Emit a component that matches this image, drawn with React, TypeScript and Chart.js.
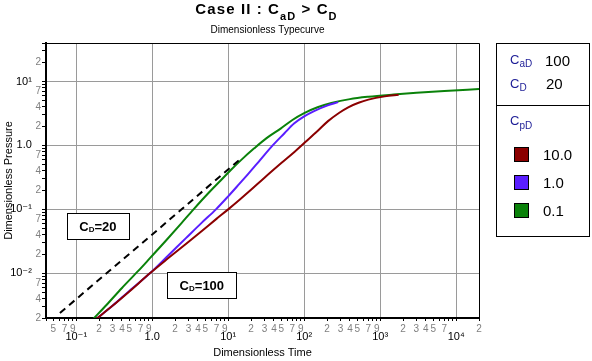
import React, { useEffect, useRef } from 'react';
import { Chart, registerables } from 'chart.js';

Chart.register(...registerables);

const FONT = "'Liberation Sans', Arial, 'DejaVu Sans', sans-serif";

// axis ranges
const xMin = 0.04;
const xMax = 20000;
const yMin = 0.002;
const yMax = 40;

// C_pD = 10.0
const tRed = [0.18, 0.3, 0.5, 0.94, 1.6, 2.8, 4.5, 7, 10, 14, 19.8, 29.8, 50, 75, 101, 150, 206, 290, 380, 520, 700, 1150, 1750];
const pRed = [0.0019, 0.0031, 0.0052, 0.0101, 0.017, 0.029, 0.046, 0.071, 0.1, 0.14, 0.2, 0.31, 0.53, 0.8, 1.1, 1.68, 2.4, 3.25, 3.95, 4.65, 5.2, 5.85, 6.2];

// C_pD = 1.0
const tBlue = [0.18, 0.3, 0.5, 0.94, 1.6, 2.8, 4.5, 6.9, 10, 14, 18, 25, 38.5, 55, 73.5, 100, 135, 200, 280];
const pBlue = [0.0019, 0.0031, 0.0053, 0.0101, 0.0187, 0.0358, 0.062, 0.1, 0.16, 0.25, 0.35, 0.55, 1.0, 1.55, 2.2, 2.85, 3.45, 4.2, 4.75];

// C_pD = 0.1
const tGreen = [0.165, 0.25, 0.4, 0.66, 0.94, 1.5, 2.4, 3.5, 5.5, 7.9, 11, 15, 22, 32, 49.5, 70, 100, 150, 228, 400, 700, 1500, 3000, 7000, 20000];
const pGreen = [0.0019, 0.0032, 0.0059, 0.011, 0.0174, 0.032, 0.06, 0.1, 0.18, 0.28, 0.42, 0.6, 0.9, 1.3, 1.85, 2.5, 3.2, 3.95, 4.6, 5.3, 5.77, 6.25, 6.65, 7.1, 7.6];

// unit-slope storage line (C_D = 20)
const tUnit = [0.061, 0.94, 14.6];
const pUnit = [0.0024, 0.038, 0.62];

// legend
const legendValues = ['10.0', '1.0', '0.1'];
const seriesColors = ['#8B0000', '#5A1EFF', '#0A820A'];
const caDValue = '100';
const cDValue = '20';

// text annotations anchored in data space
const annotationLabels = ['20', '100'];
const annotationT = [0.193, 4.5];
const annotationP = [0.054, 0.00656];

// tick label sets
const xMinorLabelled = [2, 3, 4, 5, 7, 9];
const yMinorLabelled = [2, 4, 7];

const SUP: Record<string, string> = { '-': '\u207B', '0': '\u2070', '1': '\u00B9', '2': '\u00B2', '3': '\u00B3', '4': '\u2074', '5': '\u2075', '6': '\u2076', '7': '\u2077', '8': '\u2078', '9': '\u2079' };

function decompose(v: number) {
  let e = Math.floor(Math.log10(v) + 1e-9);
  let m = Math.round(v / Math.pow(10, e));
  if (m >= 10) { m = 1; e += 1; }
  return { e, m };
}

function majorLabel(e: number) {
  if (e === 0) return '1.0';
  return '10' + String(e).split('').map((c) => SUP[c]).join('');
}

function buildLogTicks(min: number, max: number) {
  const out: number[] = [];
  for (let e = Math.floor(Math.log10(min)) - 1; e <= Math.floor(Math.log10(max)) + 1; e++) {
    for (let m = 1; m <= 9; m++) {
      const v = Number((m * Math.pow(10, e)).toPrecision(10));
      if (v >= min * (1 - 1e-9) && v <= max * (1 + 1e-9)) out.push(v);
    }
  }
  return out;
}

function xLabel(v: number): string | string[] {
  const { e, m } = decompose(v);
  if (m === 1) return ['', majorLabel(e)];
  if (xMinorLabelled.includes(m)) {
    if (e === -2 && m === 4) return '';
    if (e === 3 && m === 9) return '';
    return [String(m)];
  }
  return '';
}

function yLabel(v: number): string {
  const { e, m } = decompose(v);
  if (m === 1) return majorLabel(e) + '   ';
  if (e === 1 && m === 4) return '';
  if (yMinorLabelled.includes(m)) return String(m);
  return '';
}

function isMajor(v: number) {
  return decompose(v).m === 1;
}

function toPoints(t: number[], p: number[]) {
  return t.map((x, i) => ({ x, y: p[i] }));
}

type Part = { text: string; font: string; dy?: number; color?: string };

function drawRich(ctx: CanvasRenderingContext2D, parts: Part[], x: number, y: number, align: 'left' | 'center', spacing = 0) {
  ctx.textAlign = 'left';
  ctx.textBaseline = 'alphabetic';
  (ctx as any).letterSpacing = spacing + 'px';
  let total = 0;
  const widths = parts.map((p) => {
    ctx.font = p.font;
    const w = ctx.measureText(p.text).width;
    total += w;
    return w;
  });
  let cx = align === 'center' ? x - total / 2 : x;
  parts.forEach((p, i) => {
    ctx.font = p.font;
    ctx.fillStyle = p.color || '#000';
    ctx.fillText(p.text, cx, y + (p.dy || 0));
    cx += widths[i];
  });
  (ctx as any).letterSpacing = '0px';
  return total;
}

const decorPlugin = {
  id: 'decor',
  afterDraw(chart: any) {
    const ctx: CanvasRenderingContext2D = chart.ctx;
    const { left, right, top, bottom } = chart.chartArea;
    const xs = chart.scales.x;
    const ys = chart.scales.y;
    ctx.save();

    // top / right frame
    ctx.strokeStyle = '#000';
    ctx.lineWidth = 1;
    ctx.beginPath();
    ctx.moveTo(left, top + 0.5);
    ctx.lineTo(right + 0.5, top + 0.5);
    ctx.lineTo(right + 0.5, bottom);
    ctx.stroke();

    // annotation boxes
    annotationLabels.forEach((lab, i) => {
      const cx = xs.getPixelForValue(annotationT[i]);
      const cy = ys.getPixelForValue(annotationP[i]);
      const parts: Part[] = [
        { text: 'C', font: `bold 13px ${FONT}` },
        { text: 'D', font: `bold 8px ${FONT}`, dy: 1 },
        { text: '=' + lab, font: `bold 13px ${FONT}` },
      ];
      let tw = 0;
      parts.forEach((p) => { ctx.font = p.font; tw += ctx.measureText(p.text).width; });
      const w = Math.round(tw + 25);
      const h = 26;
      const bx = Math.round(cx - w / 2) + 0.5;
      const by = Math.round(cy - h / 2) + 0.5;
      ctx.fillStyle = '#fff';
      ctx.fillRect(bx, by, w, h);
      ctx.strokeStyle = '#000';
      ctx.lineWidth = 1;
      ctx.strokeRect(bx, by, w, h);
      drawRich(ctx, parts, cx, cy + 4.5, 'center');
    });

    // title + subtitle
    const midX = (left + right) / 2 + 4;
    drawRich(ctx, [
      { text: 'Case II : C', font: `bold 15px ${FONT}` },
      { text: 'aD', font: `bold 11px ${FONT}`, dy: 6.5 },
      { text: ' > C', font: `bold 15px ${FONT}` },
      { text: 'D', font: `bold 11px ${FONT}`, dy: 6.5 },
    ], midX, 13.5, 'center', 1.1);
    drawRich(ctx, [{ text: 'Dimensionless Typecurve', font: `10px ${FONT}` }], midX + 1, 33, 'center');

    // legend panel
    const lx = 496.5, ly = 43.5, lw = 93, lh = 193;
    ctx.fillStyle = '#fff';
    ctx.fillRect(lx, ly, lw, lh);
    ctx.strokeStyle = '#000';
    ctx.lineWidth = 1;
    ctx.strokeRect(lx, ly, lw, lh);
    ctx.beginPath();
    ctx.moveTo(lx, 105.5);
    ctx.lineTo(lx + lw, 105.5);
    ctx.stroke();

    const navy = '#1c1c96';
    drawRich(ctx, [
      { text: 'C', font: `13px ${FONT}`, color: navy },
      { text: 'aD', font: `10px ${FONT}`, color: navy, dy: 3 },
    ], 510, 64, 'left');
    drawRich(ctx, [{ text: caDValue, font: `15px ${FONT}` }], 545, 65.5, 'left');
    drawRich(ctx, [
      { text: 'C', font: `13px ${FONT}`, color: navy },
      { text: 'D', font: `10px ${FONT}`, color: navy, dy: 3 },
    ], 510, 88, 'left');
    drawRich(ctx, [{ text: cDValue, font: `15px ${FONT}` }], 546, 88.5, 'left');
    drawRich(ctx, [
      { text: 'C', font: `13px ${FONT}`, color: navy },
      { text: 'pD', font: `10px ${FONT}`, color: navy, dy: 4 },
    ], 510, 124.5, 'left');

    legendValues.forEach((v, i) => {
      const sy = 146.5 + i * 28.3;
      ctx.fillStyle = seriesColors[i];
      ctx.fillRect(514.5, Math.round(sy) + 0.5, 14, 14);
      ctx.strokeStyle = '#000';
      ctx.strokeRect(514.5, Math.round(sy) + 0.5, 14, 14);
      drawRich(ctx, [{ text: v, font: `15px ${FONT}` }], 543, Math.round(sy) + 13, 'left');
    });

    ctx.restore();
  },
};

export default function App() {
  const ref = useRef<HTMLCanvasElement | null>(null);

  useEffect(() => {
    if (!ref.current) return;
    const chart = new Chart(ref.current, {
      type: 'line',
      data: {
        datasets: [
          {
            label: 'CD=20',
            data: toPoints(tUnit, pUnit),
            borderColor: '#000',
            borderWidth: 2,
            borderDash: [7, 5],
            pointRadius: 0,
            tension: 0,
            order: 0,
          },
          {
            label: legendValues[0],
            data: toPoints(tRed, pRed),
            borderColor: seriesColors[0],
            borderWidth: 2,
            pointRadius: 0,
            cubicInterpolationMode: 'monotone',
            order: 1,
          },
          {
            label: legendValues[1],
            data: toPoints(tBlue, pBlue),
            borderColor: seriesColors[1],
            borderWidth: 2,
            pointRadius: 0,
            cubicInterpolationMode: 'monotone',
            order: 2,
          },
          {
            label: legendValues[2],
            data: toPoints(tGreen, pGreen),
            borderColor: seriesColors[2],
            borderWidth: 2,
            pointRadius: 0,
            cubicInterpolationMode: 'monotone',
            order: 3,
          },
        ],
      },
      options: {
        responsive: false,
        animation: false,
        devicePixelRatio: 1,
        layout: { padding: { left: 0, right: 113, top: 43, bottom: 0 } },
        plugins: {
          legend: { display: false },
          tooltip: { enabled: false },
          title: { display: false },
        },
        scales: {
          x: {
            type: 'logarithmic',
            min: xMin,
            max: xMax,
            afterBuildTicks: (scale: any) => {
              scale.ticks = buildLogTicks(xMin, xMax).map((value) => ({ value }));
            },
            afterFit: (scale: any) => { scale.height = 43; },
            ticks: {
              autoSkip: false,
              maxRotation: 0,
              minRotation: 0,
              padding: 4,
              font: (c: any) => ({ family: FONT, size: c.tick && isMajor(c.tick.value) ? 11 : 10, lineHeight: c.tick && isMajor(c.tick.value) ? 0.75 : 0.8 }),
              color: (c: any) => (c.tick && isMajor(c.tick.value) ? '#000' : '#808080'),
              callback: (v: any) => xLabel(Number(v)),
            },
            grid: {
              color: (c: any) => (c.tick && isMajor(c.tick.value) ? '#9a9a9a' : 'rgba(0,0,0,0)'),
              tickColor: '#000',
              tickLength: 3,
              lineWidth: 1,
            },
            border: { display: true, color: '#000', width: 2 },
            title: {
              display: true,
              text: 'Dimensionless Time',
              color: '#000',
              font: { family: FONT, size: 11 },
              padding: { top: 0, bottom: 1 },
            },
          },
          y: {
            type: 'logarithmic',
            min: yMin,
            max: yMax,
            afterBuildTicks: (scale: any) => {
              scale.ticks = buildLogTicks(yMin, yMax).map((value) => ({ value }));
            },
            afterFit: (scale: any) => { scale.width = 46; },
            ticks: {
              autoSkip: false,
              padding: 1,
              font: (c: any) => ({ family: FONT, size: c.tick && isMajor(c.tick.value) ? 11 : 10 }),
              color: (c: any) => (c.tick && isMajor(c.tick.value) ? '#000' : '#808080'),
              callback: (v: any) => yLabel(Number(v)),
            },
            grid: {
              color: (c: any) => (c.tick && isMajor(c.tick.value) ? '#9a9a9a' : 'rgba(0,0,0,0)'),
              tickColor: '#000',
              tickLength: 4,
              lineWidth: 1,
            },
            border: { display: true, color: '#000', width: 2 },
            title: {
              display: true,
              text: 'Dimensionless Pressure',
              color: '#000',
              font: { family: FONT, size: 11 },
              padding: { top: 2, bottom: 0 },
            },
          },
        },
      },
      plugins: [decorPlugin],
    } as any);
    return () => chart.destroy();
  }, []);

  return (
    <div style={{ position: 'absolute', left: 0, top: 0, width: 592, height: 361, background: '#fff' }}>
      <canvas ref={ref} width={592} height={361} style={{ display: 'block', width: 592, height: 361 }} />
    </div>
  );
}
